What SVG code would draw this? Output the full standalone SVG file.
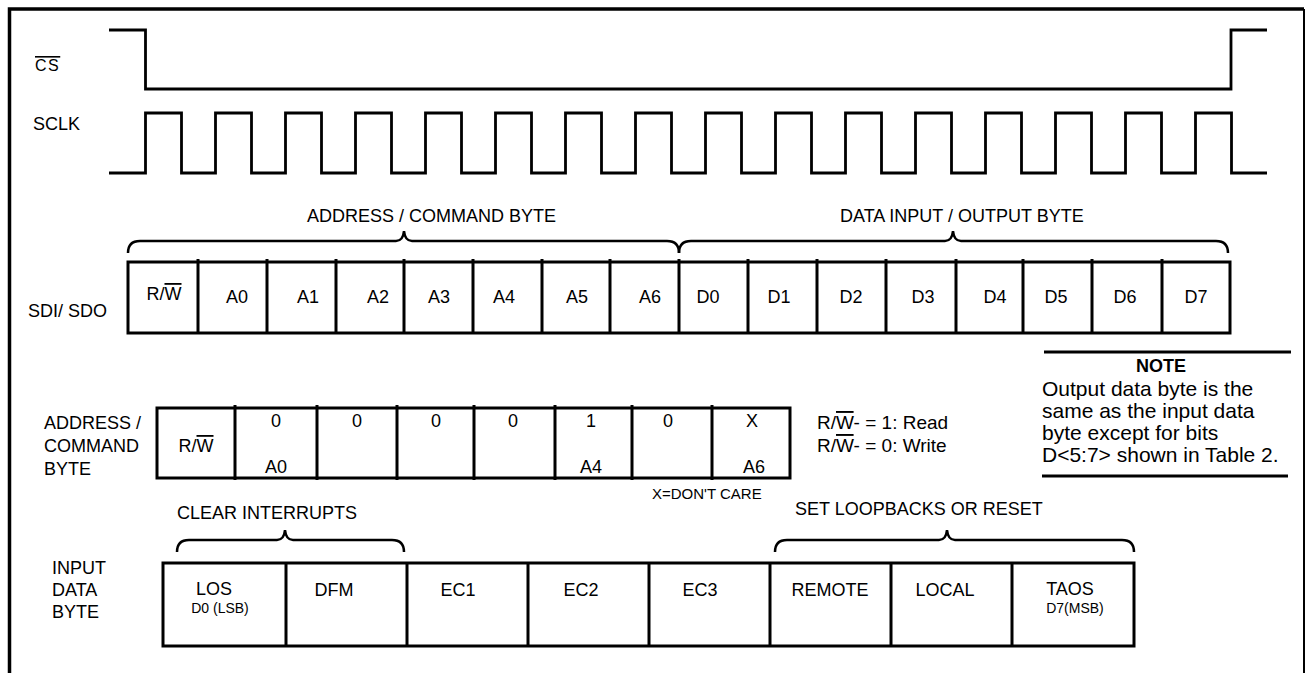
<svg xmlns="http://www.w3.org/2000/svg" width="1307" height="673" viewBox="0 0 1307 673">
<style>
text{font-family:"Liberation Sans",Arial,sans-serif;fill:#000}
.l{font-size:18px}
.c{font-size:18px;text-anchor:middle}
.s{font-size:14px;text-anchor:middle}
.n{font-size:21px}
.r{font-size:19px}
.w{fill:none;stroke:#000;stroke-width:2.8;stroke-linejoin:miter}
.bx{fill:#fff;stroke:#000;stroke-width:3}
.d{stroke:#000;stroke-width:3}
.br{fill:none;stroke:#000;stroke-width:2.5}
.ov{text-decoration:overline}
</style>
<g id="frame">
<path d="M9.5,673 V9 H1304" fill="none" stroke="#000" stroke-width="3.5"/>
<path d="M1304,9 V673" fill="none" stroke="#000" stroke-width="2"/>
</g>
<g id="cs">
<text x="35" y="71" style="font-size:16px;letter-spacing:1.5px"><tspan class="ov">CS</tspan></text>
<path class="w" d="M109,30 H145.5 V89 H1231 V30 H1267"/>
</g>
<g id="sclk">
<text class="l" x="33" y="130">SCLK</text>
<path class="w" d="M109,173 H145.5 V113 H181.5 V173 H215.5 V113 H251.5 V173 H285.5 V113 H321.5 V173 H355.5 V113 H391.5 V173 H425.5 V113 H461.5 V173 H495.5 V113 H531.5 V173 H565.5 V113 H601.5 V173 H635.5 V113 H671.5 V173 H705.5 V113 H741.5 V173 H775.5 V113 H811.5 V173 H845.5 V113 H881.5 V173 H915.5 V113 H951.5 V173 H985.5 V113 H1021.5 V173 H1055.5 V113 H1091.5 V173 H1125.5 V113 H1161.5 V173 H1195.5 V113 H1231.5 V173 H1267"/>
</g>
<g id="connectors">
<path class="br" d="M128,253 Q128,241 140,241 L396,241 Q403,241 404,231 Q405,241 412,241 L667,241 Q679,241 679,253"/>
<path class="br" d="M679,253 Q679,241 691,241 L945,241 Q952,241 953,231 Q954,241 961,241 L1216,241 Q1228,241 1228,253"/>
<path class="br" d="M177,552 Q177,540 189,540 L277,540 Q284,540 285,530 Q286,540 293,540 L392,540 Q404,540 404,552"/>
<path class="br" d="M775,552 Q775,540 787,540 L939,540 Q946,540 947,530 Q948,540 955,540 L1122,540 Q1134,540 1134,552"/>
</g>
<g id="brace-labels">
<text class="l" x="307" y="222">ADDRESS / COMMAND BYTE</text>
<text class="l" x="840" y="222">DATA INPUT / OUTPUT BYTE</text>
<text class="l" x="177" y="519">CLEAR INTERRUPTS</text>
<text class="l" x="795" y="515">SET LOOPBACKS OR RESET</text>
</g>
<g id="sdi-sdo">
<text class="l" x="28" y="317">SDI/ SDO</text>
<rect class="bx" x="128" y="262" width="1102" height="71"/>
<path class="d" d="M198,259V333 M267,259V333 M336,259V333 M404,259V333 M473,259V333 M542,259V333 M610,259V333 M679,259V333 M748,259V333 M817,259V333 M886,259V333 M956,259V333 M1023,259V333 M1092,259V333 M1162,259V333"/>
<text class="c" x="164" y="300">R/<tspan class="ov">W</tspan></text>
<text class="c" x="237" y="303">A0</text>
<text class="c" x="308" y="303">A1</text>
<text class="c" x="378" y="303">A2</text>
<text class="c" x="439" y="303">A3</text>
<text class="c" x="504" y="303">A4</text>
<text class="c" x="577" y="303">A5</text>
<text class="c" x="650" y="303">A6</text>
<text class="c" x="708" y="303">D0</text>
<text class="c" x="779" y="303">D1</text>
<text class="c" x="851" y="303">D2</text>
<text class="c" x="923" y="303">D3</text>
<text class="c" x="995" y="303">D4</text>
<text class="c" x="1056" y="303">D5</text>
<text class="c" x="1125" y="303">D6</text>
<text class="c" x="1196" y="303">D7</text>
</g>
<g id="address-command-byte">
<text class="l" x="44" y="429">ADDRESS /</text>
<text class="l" x="44" y="452">COMMAND</text>
<text class="l" x="44" y="475">BYTE</text>
<rect class="bx" x="157" y="408" width="633" height="70"/>
<path class="d" d="M235,405V480 M317,405V480 M397,405V480 M474,405V480 M555,405V480 M632,405V480 M712,405V480"/>
<text class="c" x="196" y="452">R/<tspan class="ov">W</tspan></text>
<text class="c" x="276" y="427">0</text>
<text class="c" x="276" y="473">A0</text>
<text class="c" x="357" y="427">0</text>
<text class="c" x="436" y="427">0</text>
<text class="c" x="513" y="427">0</text>
<text class="c" x="591" y="427">1</text>
<text class="c" x="591" y="473">A4</text>
<text class="c" x="668" y="427">0</text>
<text class="c" x="752" y="427">X</text>
<text class="c" x="754" y="473">A6</text>
<text style="font-size:15px" x="652" y="499">X=DON'T CARE</text>
</g>
<g id="rw-legend">
<text class="r" x="817" y="429">R/<tspan class="ov">W</tspan>- = 1: Read</text>
<text class="r" x="817" y="452">R/<tspan class="ov">W</tspan>- = 0: Write</text>
</g>
<g id="note">
<path d="M1044,352 H1291" stroke="#000" stroke-width="3"/>
<text x="1161" y="372" style="font-size:18px;font-weight:bold;text-anchor:middle">NOTE</text>
<text class="n" x="1042" y="396">Output data byte is the</text>
<text class="n" x="1042" y="418">same as the input data</text>
<text class="n" x="1042" y="440">byte except for bits</text>
<text class="n" x="1042" y="462">D&lt;5:7&gt; shown in Table 2.</text>
<path d="M1042,476 H1288" stroke="#000" stroke-width="3"/>
</g>
<g id="input-data-byte">
<text class="l" x="52" y="574">INPUT</text>
<text class="l" x="52" y="596">DATA</text>
<text class="l" x="52" y="618">BYTE</text>
<rect class="bx" x="163" y="563" width="971" height="83"/>
<path class="d" d="M286,563V646 M407,563V646 M528,563V646 M649,563V646 M770,563V646 M891,563V646 M1012,563V646"/>
<text class="c" x="214" y="595">LOS</text>
<text class="s" x="220" y="613">D0 (LSB)</text>
<text class="c" x="334" y="596">DFM</text>
<text class="c" x="458" y="596">EC1</text>
<text class="c" x="581" y="596">EC2</text>
<text class="c" x="700" y="596">EC3</text>
<text class="c" x="830" y="596">REMOTE</text>
<text class="c" x="945" y="596">LOCAL</text>
<text class="c" x="1070" y="595">TAOS</text>
<text class="s" x="1075" y="613">D7(MSB)</text>
</g>
</svg>
